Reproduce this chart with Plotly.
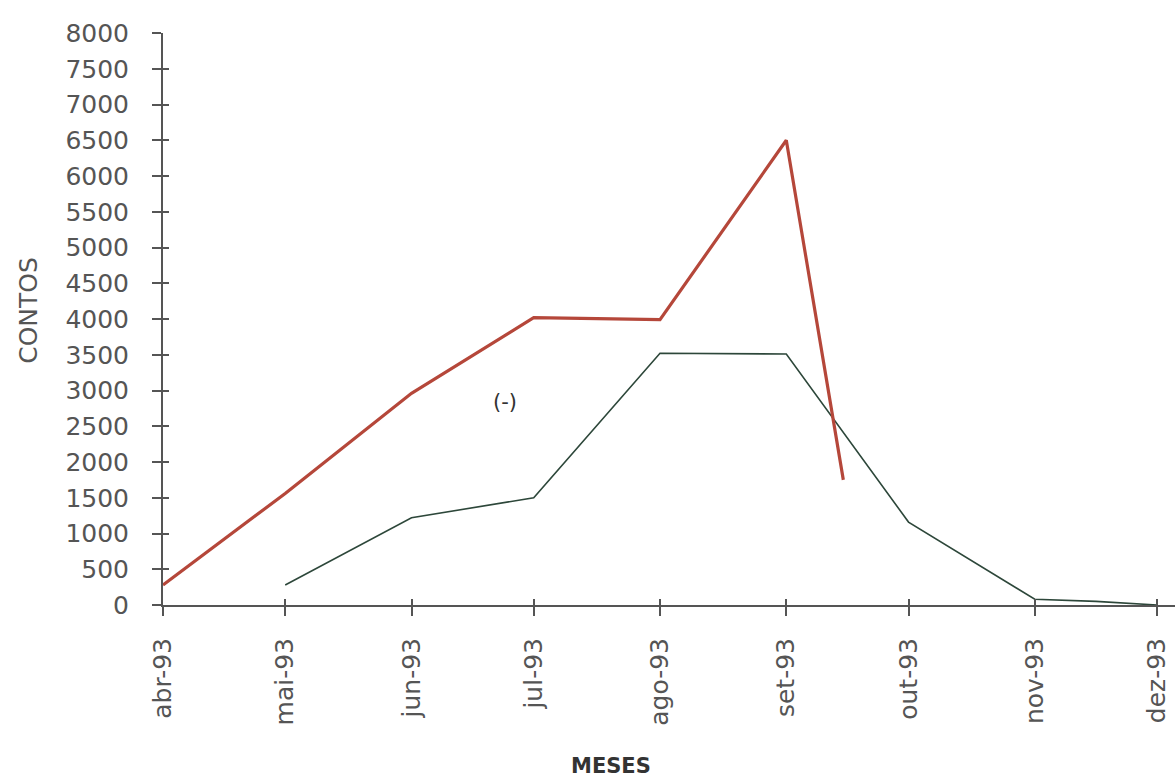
import plotly.graph_objects as go

# Monthly values (contos)
months = ["1993-04-01", "1993-05-01", "1993-06-01", "1993-07-01", "1993-08-01",
          "1993-09-01", "1993-10-01", "1993-11-01", "1993-12-01"]
month_labels = ["abr-93", "mai-93", "jun-93", "jul-93", "ago-93",
                "set-93", "out-93", "nov-93", "dez-93"]

red_dates = ["1993-04-01", "1993-05-01", "1993-06-01", "1993-07-01",
             "1993-08-01", "1993-09-01", "1993-09-15"]
red_values = [280, 1560, 2960, 4020, 3990, 6500, 1750]

green_dates = ["1993-05-01", "1993-06-01", "1993-07-01", "1993-08-01",
               "1993-09-01", "1993-10-01", "1993-11-01", "1993-11-16", "1993-12-01"]
green_values = [280, 1220, 1500, 3520, 3510, 1160, 80, 50, 0]

y_ticks = list(range(0, 8001, 500))
x_range = ["1993-04-01", "1993-12-05 10:00"]
y_range = [0, 8000]

fig = go.Figure()
fig.add_trace(go.Scatter(x=green_dates, y=green_values, mode="lines",
                         line=dict(color="#2d473a", width=1.6),
                         cliponaxis=False, showlegend=False))
fig.add_trace(go.Scatter(x=red_dates, y=red_values, mode="lines",
                         line=dict(color="#b5473a", width=3.2),
                         cliponaxis=False, showlegend=False))
# invisible trace on the overlay axes so their inner tick marks are drawn
fig.add_trace(go.Scatter(x=[months[0]], y=[0], xaxis="x2", yaxis="y2",
                         mode="markers", marker=dict(opacity=0),
                         hoverinfo="skip", showlegend=False))

tick_font = dict(family="DejaVu Sans", size=25, color="#555555")
axis_col = "#555555"

fig.update_layout(
    width=1175, height=781,
    margin=dict(l=163, r=0, t=33, b=176),
    paper_bgcolor="white", plot_bgcolor="white",
    xaxis=dict(
        type="date", range=x_range,
        tickvals=months, ticktext=month_labels,
        tickangle=-90, tickfont=tick_font,
        ticks="outside", ticklen=9, tickwidth=2, tickcolor=axis_col,
        ticklabelstandoff=12, ticklabeloverflow="allow", automargin=False,
        showline=True, linecolor=axis_col, linewidth=2,
        showgrid=False, zeroline=False,
    ),
    yaxis=dict(
        range=y_range,
        tickvals=y_ticks, ticktext=[str(v) for v in y_ticks],
        tickfont=tick_font, automargin=False,
        ticks="outside", ticklen=9, tickwidth=2, tickcolor=axis_col,
        ticklabelstandoff=18,
        showline=True, linecolor=axis_col, linewidth=2,
        showgrid=False, zeroline=False,
    ),
    xaxis2=dict(
        type="date", range=x_range, overlaying="x", side="bottom",
        anchor="y2", tickvals=months, showticklabels=False, automargin=False,
        ticks="inside", ticklen=6, tickwidth=2, tickcolor=axis_col,
        showline=False, showgrid=False, zeroline=False,
    ),
    yaxis2=dict(
        range=y_range, overlaying="y", side="left", anchor="x2",
        tickvals=y_ticks, showticklabels=False, automargin=False,
        ticks="inside", ticklen=6, tickwidth=2, tickcolor=axis_col,
        showline=False, showgrid=False, zeroline=False,
    ),
    annotations=[
        dict(text="CONTOS", textangle=-90, xref="paper", yref="paper",
             x=-0.133, y=0.515, xanchor="center", yanchor="middle",
             showarrow=False,
             font=dict(family="DejaVu Sans", size=25, color="#555555")),
        dict(text="<b>MESES</b>", xref="paper", yref="paper",
             x=0.443, y=-0.282, xanchor="center", yanchor="middle",
             showarrow=False,
             font=dict(family="DejaVu Sans", size=21, color="#333333")),
        dict(text="(-)", x="1993-06-24", y=2840, xanchor="center", yanchor="middle",
             showarrow=False,
             font=dict(family="DejaVu Sans", size=21, color="#333333")),
    ],
)

fig.write_html("out.html")
